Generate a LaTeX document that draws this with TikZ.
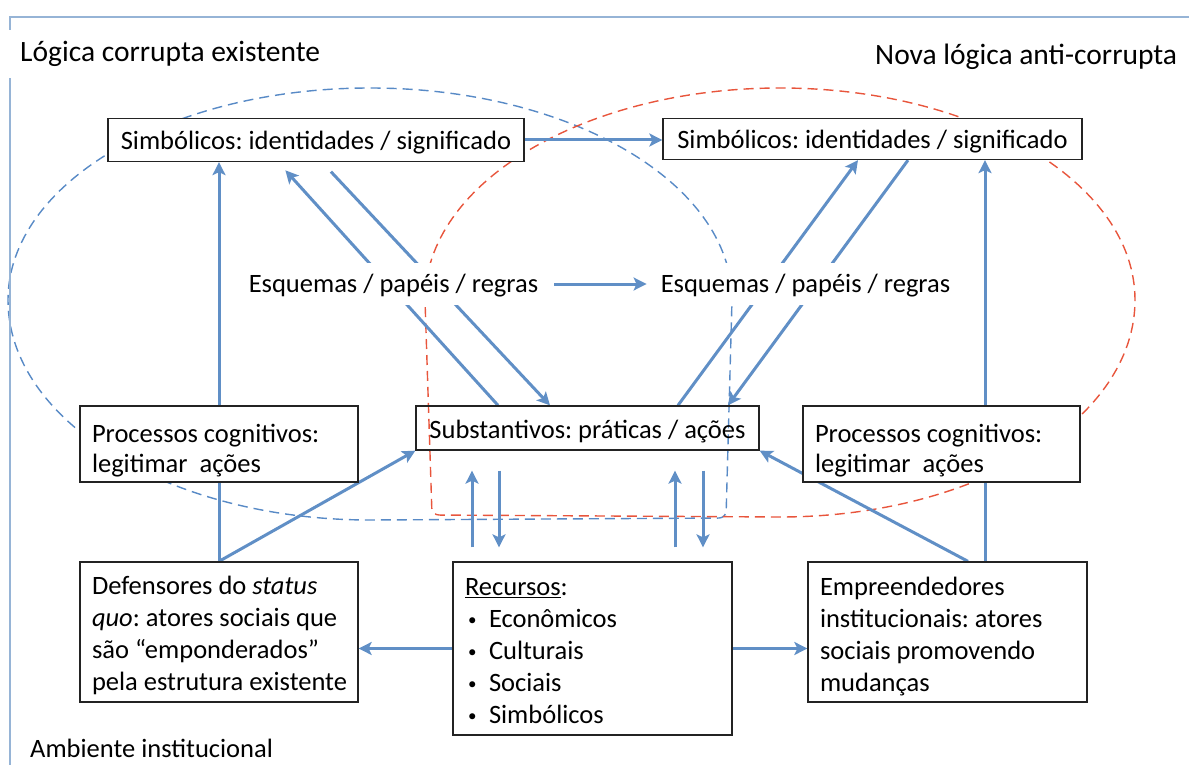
\documentclass[tikz,border=0pt]{standalone}
\usepackage{fontspec}
\setmainfont{Carlito}
\usetikzlibrary{arrows.meta,calc}
\pgfdeclarelayer{bg}
\pgfsetlayers{bg,main}
\definecolor{arrowblue}{RGB}{96,143,198}
\definecolor{frameblue}{RGB}{150,180,214}
\definecolor{dashblue}{RGB}{88,138,198}
\definecolor{dashred}{RGB}{232,85,60}
\definecolor{boxline}{RGB}{35,35,35}
% left-aligned block of explicit lines, padded to a fixed width
\newcommand{\linesblock}[2]{\makebox[#1][l]{\begin{tabular}{@{}l@{}}#2\end{tabular}}}
% content moved down without changing its reported size
\newcommand{\lowered}[2]{\raisebox{-#1}[\height][\depth]{#2}}
\newcommand{\bul}{\makebox[24pt][l]{\hspace{3pt}\raisebox{2.5pt}{\fontsize{17}{17}\selectfont •}}}

\begin{document}
\frenchspacing
\begin{tikzpicture}[x=1pt,y=-1pt,
  font=\fontsize{26.5}{32}\selectfont,
  arr/.style={draw=arrowblue, line width=3pt, -{Stealth[length=13pt,width=13pt,inset=3pt]}},
  link/.style={draw=arrowblue, line width=3pt},
  box/.style={draw=boxline, line width=1.3pt, fill=white, inner sep=0pt},
  plainbox/.style={draw=boxline, line width=1.3pt, inner sep=0pt},
  label/.style={fill=white, inner xsep=12pt, inner ysep=0pt, minimum height=42pt},
  caption/.style={inner sep=0pt, anchor=west},
  title/.style={caption, font=\fontsize{29.5}{34}\selectfont},
  dashline/.style={line width=1.4pt, dash pattern=on 10pt off 6pt}]
\useasboundingbox (0,0) rectangle (1189,765);

% outer frame of the institutional environment
\draw[frameblue, line width=2pt] (10,765) -- (10,17) -- (1189,17);

% titles and environment label
\node[title, fill=white, inner xsep=12pt, minimum height=48pt] (tLeft) at (8,54) {Lógica corrupta existente};
\node[title] (tRight) at (875,57) {Nova lógica anti-corrupta};
\node[caption] (tEnv) at (30,748) {Ambiente institucional};

% symbolic level
\node[box, minimum width=416pt, minimum height=43pt] (simbA) at (316,140)
  {\lowered{3pt}{Simbólicos: identidades / significado}};
\node[box, minimum width=419pt, minimum height=41pt] (simbB) at (872.5,139)
  {\lowered{3pt}{Simbólicos: identidades / significado}};

% schemas
\node[label] (esqA) at (393.5,284) {\lowered{2pt}{Esquemas / papéis / regras}};
\node[label] (esqB) at (805.5,284) {\lowered{2pt}{Esquemas / papéis / regras}};

% substantive level
\node[plainbox, minimum width=343pt, minimum height=44pt] (subst) at (587.5,428)
  {\lowered{4pt}{Substantivos: práticas / ações}};

% cognitive processes
\node[box, minimum width=278pt, minimum height=76pt, font=\fontsize{26.5}{30}\selectfont] (procA) at (219,444)
  {\lowered{7pt}{\linesblock{254pt}{Processos cognitivos:\\legitimar\ \ ações}}};
\node[box, minimum width=277pt, minimum height=76pt, font=\fontsize{26.5}{30}\selectfont] (procB) at (941.5,444)
  {\lowered{7pt}{\linesblock{253pt}{Processos cognitivos:\\legitimar\ \ ações}}};

% actors and resources
\node[box, minimum width=278pt, minimum height=140pt] (def) at (219,632)
  {\lowered{4pt}{\linesblock{254pt}{Defensores do \textit{status}\\\textit{quo}: atores sociais que\\são “emponderados”\\pela estrutura existente}}};
\node[box, minimum width=279pt, minimum height=173pt] (rec) at (592.5,648.5)
  {\lowered{5pt}{\linesblock{255pt}{\underline{Recursos}:\\\bul Econômicos\\\bul Culturais\\\bul Sociais\\\bul Simbólicos}}};
\node[box, minimum width=279pt, minimum height=140pt] (emp) at (947.5,632)
  {\lowered{5pt}{\linesblock{255pt}{Empreendedores\\institucionais: atores\\sociais promovendo\\mudanças}}};

\begin{pgfonlayer}{bg}
  % existing corrupt logic (blue) and new anti-corrupt logic (red)
  \draw[dashblue, dashline] (732,300)
    arc[start angle=0, end angle=-180, x radius=362, y radius=212]
    arc[start angle=180, end angle=90, x radius=362, y radius=220]
    [rounded corners=7pt] -- (726,518) -- (732,300);
  \draw[dashred, dashline] (425,300)
    arc[start angle=180, end angle=360, x radius=355, y radius=212]
    arc[start angle=0, end angle=90, x radius=355, y radius=217]
    [rounded corners=7pt] -- (432,515) -- (425,300);

  % left column
  \draw[link] (def.north) -- (procA.south);
  \draw[arr] (procA.north) -- (procA.north |- simbA.south);
  \draw[arr] (def.north) -- (subst.south west);

  % right column
  \coordinate (eTop) at ($(emp.north)+(37.5,0)$);
  \coordinate (eDiag) at ($(emp.north)+(20.5,0)$);
  \draw[link] (eTop) -- (eTop |- procB.south);
  \draw[arr] (eTop |- procB.north) -- (eTop |- simbB.south);
  \draw[arr] (eDiag) -- (subst.south east);

  % between symbolic and substantive levels, through the schemas
  \draw[arr, shorten >=11pt] ([xshift=-89.5pt]subst.north) -- ([xshift=-38pt]simbA.south);
  \draw[arr, shorten <=13pt] ([xshift=6pt]simbA.south) -- ([xshift=-37.5pt]subst.north);
  \draw[arr] ([xshift=90.5pt]subst.north) -- ([xshift=-14.5pt]simbB.south);
  \draw[arr] ([xshift=35.5pt]simbB.south) -- ([xshift=140.5pt]subst.north);

  % level transitions
  \draw[arr] (simbA.east) -- (simbA.east -| simbB.west);
  \draw[arr, shorten <=4pt, shorten >=2pt] (esqA.east) -- (esqB.west);

  % resources and practices
  \draw[arr, shorten <=14pt, shorten >=20pt] ([xshift=-120.5pt]rec.north) -- ([xshift=-120.5pt]rec.north |- subst.south);
  \draw[arr, shorten <=20pt, shorten >=14pt] ([xshift=-93.5pt]rec.north |- subst.south) -- ([xshift=-93.5pt]rec.north);
  \draw[arr, shorten <=14pt, shorten >=20pt] ([xshift=82.5pt]rec.north) -- ([xshift=82.5pt]rec.north |- subst.south);
  \draw[arr, shorten <=20pt, shorten >=14pt] ([xshift=110.5pt]rec.north |- subst.south) -- ([xshift=110.5pt]rec.north);

  % resources towards the actors
  \draw[arr] (rec.west) -- (rec.west -| def.east);
  \draw[arr] (rec.east) -- (rec.east -| emp.west);
\end{pgfonlayer}
\end{tikzpicture}
\end{document}
